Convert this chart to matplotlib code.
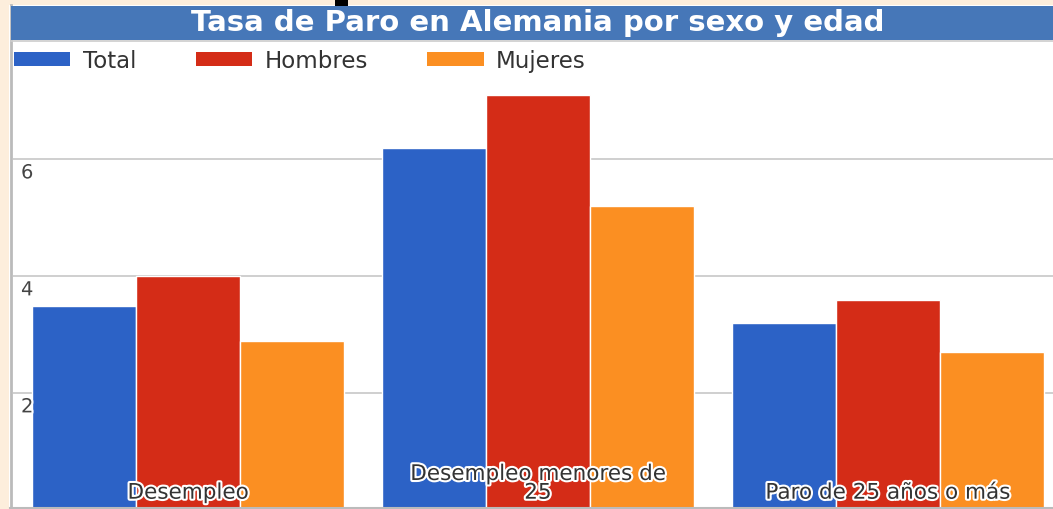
import matplotlib
matplotlib.use("Agg")
import matplotlib.pyplot as plt
import matplotlib.patheffects as pe
from matplotlib.patches import Rectangle, Patch
from matplotlib.lines import Line2D
import numpy as np

categories = ["Desempleo", "Desempleo menores de\n25", "Paro de 25 años o más"]
series_names = ["Total", "Hombres", "Mujeres"]
total = [3.5, 6.2, 3.2]
hombres = [4.0, 7.1, 3.6]
mujeres = [2.9, 5.2, 2.7]
y_ticks = [2, 4, 6]
title = "Tasa de Paro en Alemania por sexo y edad"

colors = ["#2C62C6", "#D42C17", "#FB8F22"]

W, H = 1053, 510
fig = plt.figure(figsize=(W / 100, H / 100), dpi=100)
fig.patch.set_facecolor("white")

def fx(px):
    return px / W

def fy(py):
    return 1 - py / H

# axes: x from 13 to 1063 px, y from 511.3 (0) to 43.3 (8)
ax = fig.add_axes([fx(13), fy(511.3), fx(1063 - 13), (511.3 - 43.3) / H])
ax.set_xlim(-0.5, 2.5)
ax.set_ylim(0, 8)
for s in ax.spines.values():
    s.set_visible(False)
ax.set_xticks([])
ax.set_yticks([])
ax.patch.set_alpha(0)

for t in y_ticks:
    ax.axhline(t, color="#CCCCCC", lw=1.3, zorder=0)

x = np.arange(len(categories))
bw = 104 / 350
for i, (vals, c) in enumerate(zip([total, hombres, mujeres], colors)):
    ax.bar(x + (i - 1) * bw, vals, width=bw, color=c, edgecolor="white",
           linewidth=1.0, zorder=2)

halo = [pe.withStroke(linewidth=3, foreground="white")]
for t in y_ticks:
    ax.text(-0.5 + (21 - 13) / 350, t - 0.07, str(t), ha="left", va="top",
            fontsize=14, color="#444444", family="DejaVu Sans", zorder=4,
            path_effects=halo)

for xi, lab in zip(x, categories):
    ax.text(xi, 0.13, lab, ha="center", va="bottom", fontsize=15.5,
            color="#333333", family="DejaVu Sans", zorder=5,
            linespacing=0.92, path_effects=halo)

# legend
handles = [Patch(facecolor=c, edgecolor="none") for c in colors]
leg = ax.legend(handles, series_names, loc="upper left",
                bbox_to_anchor=(fx(14), fy(50)), bbox_transform=fig.transFigure,
                ncol=3, frameon=False, handlelength=2.45,
                handleheight=0.62, handletextpad=0.55, columnspacing=2.6,
                borderaxespad=0, borderpad=0,
                prop={"family": "DejaVu Sans", "size": 16.5})
for txt in leg.get_texts():
    txt.set_color("#333333")

# decorations: cream left/top border, gray frame lines, title bar
fig.add_artist(Rectangle((0, 0), fx(9), 1, transform=fig.transFigure,
                         facecolor="#FDEEDC", edgecolor="none", zorder=0))
fig.add_artist(Rectangle((0, fy(6)), 1, 6 / H, transform=fig.transFigure,
                         facecolor="#FDEEDC", edgecolor="none", zorder=0))
fig.add_artist(Line2D([fx(10.5), fx(10.5)], [0, fy(6)], transform=fig.transFigure,
                      color="#BBBBBB", lw=2, zorder=1))
fig.add_artist(Line2D([fx(10), 1], [fy(508.5), fy(508.5)], transform=fig.transFigure,
                      color="#BBBBBB", lw=1.5, zorder=10))
fig.add_artist(Rectangle((fx(11), fy(41)), 1 - fx(11), 34 / H, transform=fig.transFigure,
                         facecolor="#4677B8", edgecolor="none", zorder=1))
fig.add_artist(Line2D([fx(11), 1], [fy(41.5), fy(41.5)], transform=fig.transFigure,
                      color="#CCCCCC", lw=1.2, zorder=1))
fig.add_artist(Rectangle((fx(335), fy(7)), 13 / W, 7 / H, transform=fig.transFigure,
                         facecolor="black", edgecolor="none", zorder=2))
fig.text(fx(538), fy(23), title, ha="center", va="center", fontsize=21,
         fontweight="bold", color="white", family="DejaVu Sans", zorder=3)

fig.savefig("out.png", dpi=100)
